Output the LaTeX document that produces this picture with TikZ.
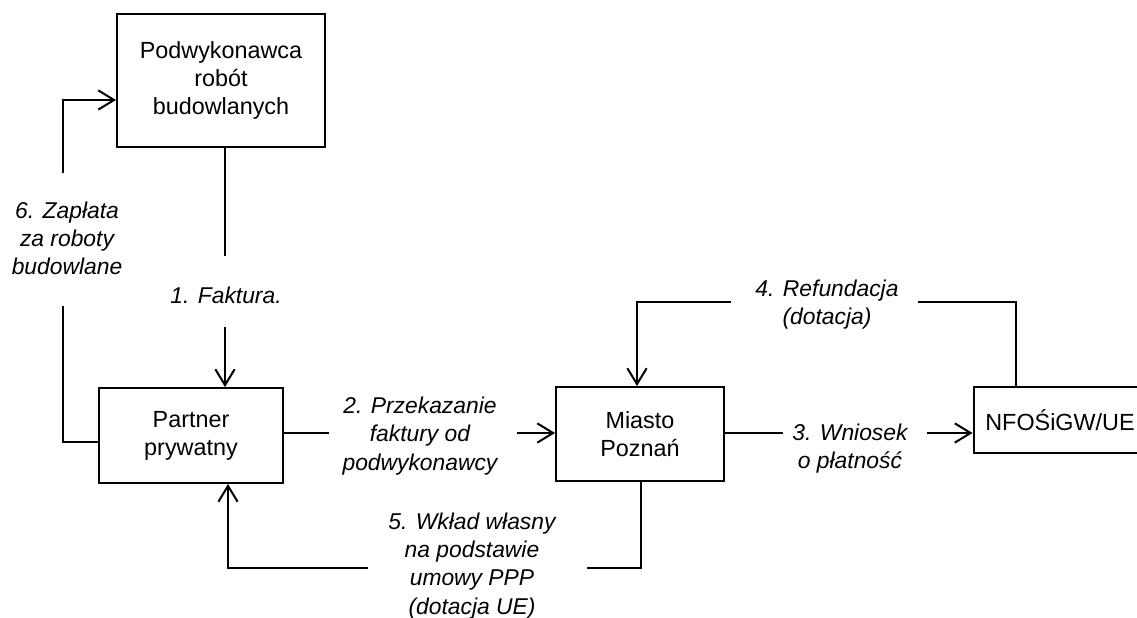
\documentclass[tikz,border=0pt]{standalone}
\usepackage{fontspec}
\setmainfont{Liberation Sans}
\usetikzlibrary{arrows.meta}
\begin{document}
\begin{tikzpicture}[x=0.02cm,y=-0.02cm,line width=1.15pt,>={Straight Barb[length=9pt,width=11pt]}]
	\tikzset{box/.style={draw,align=center,inner sep=0pt,font=\fontsize{13.3}{16}\selectfont},
		lbl/.style={align=center,inner sep=0pt,font=\fontsize{13}{16}\selectfont\itshape}}
	\useasboundingbox (0,0) rectangle (1137,618);
	% boxes
	\node[box,minimum width=4.16cm,minimum height=2.66cm] (sub) at (221,80.5) {Podwykonawca\\robót\\budowlanych};
	\node[box,minimum width=3.68cm,minimum height=1.9cm] (partner) at (191,435.5) {Partner\\prywatny};
	\node[box,minimum width=3.36cm,minimum height=1.88cm] (miasto) at (640,434) {Miasto\\Poznań};
	\node[box,minimum width=4.26cm,minimum height=1.32cm] (nfos) at (1080,420) {NFOŚiGW/UE\hspace*{0.8cm}};
	% labels
	\node[lbl] (l1) at (226,295) {1. Faktura.};
	\node[lbl] (l2) at (420,436) {2. Przekazanie\\faktury od\\podwykonawcy};
	\node[lbl] (l3) at (850,449) {3. Wniosek\\o płatność};
	\node[lbl] (l4) at (827,305) {4. Refundacja\\(dotacja)};
	\node[lbl] (l5) at (472,566) {5. Wkład własny\\na podstawie\\umowy PPP\\(dotacja UE)};
	\node[lbl] (l6) at (67,238) {6. Zapłata\\za roboty\\budowlane};
	% connectors
	\coordinate (e1a) at (225,256);
	\coordinate (e1b) at (225,327);
	\draw (sub.south -| e1a) -- (e1a);
	\draw[->] (e1b) -- (e1b |- partner.north);
	\coordinate (e2a) at (329,433);
	\coordinate (e2b) at (517,433);
	\draw (e2a -| partner.east) -- (e2a);
	\draw[->] (e2b) -- (e2b -| miasto.west);
	\coordinate (e3a) at (783,433);
	\coordinate (e3b) at (927,433);
	\draw (e3a -| miasto.east) -- (e3a);
	\draw[->] (e3b) -- (e3b -| nfos.west);
	\coordinate (e4a) at (918,302);
	\coordinate (e4b) at (731,302);
	\coordinate (e4c) at (1016,302);
	\coordinate (e4d) at (637,302);
	\draw (e4c |- nfos.north) -- (e4c) -- (e4a);
	\draw[->] (e4b) -- (e4d) -- (e4d |- miasto.north);
	\coordinate (e5a) at (587,568);
	\coordinate (e5b) at (368,568);
	\coordinate (e5c) at (641,568);
	\coordinate (e5d) at (228,568);
	\draw (e5c |- miasto.south) -- (e5c) -- (e5a);
	\draw[->] (e5b) -- (e5d) -- (e5d |- partner.south);
	\coordinate (e6a) at (63,306);
	\coordinate (e6b) at (63,173);
	\coordinate (e6c) at (63,442);
	\coordinate (e6d) at (63,100);
	\draw (e6c -| partner.west) -- (e6c) -- (e6a);
	\draw[->] (e6b) -- (e6d) -- (e6d -| sub.west);
\end{tikzpicture}
\end{document}
